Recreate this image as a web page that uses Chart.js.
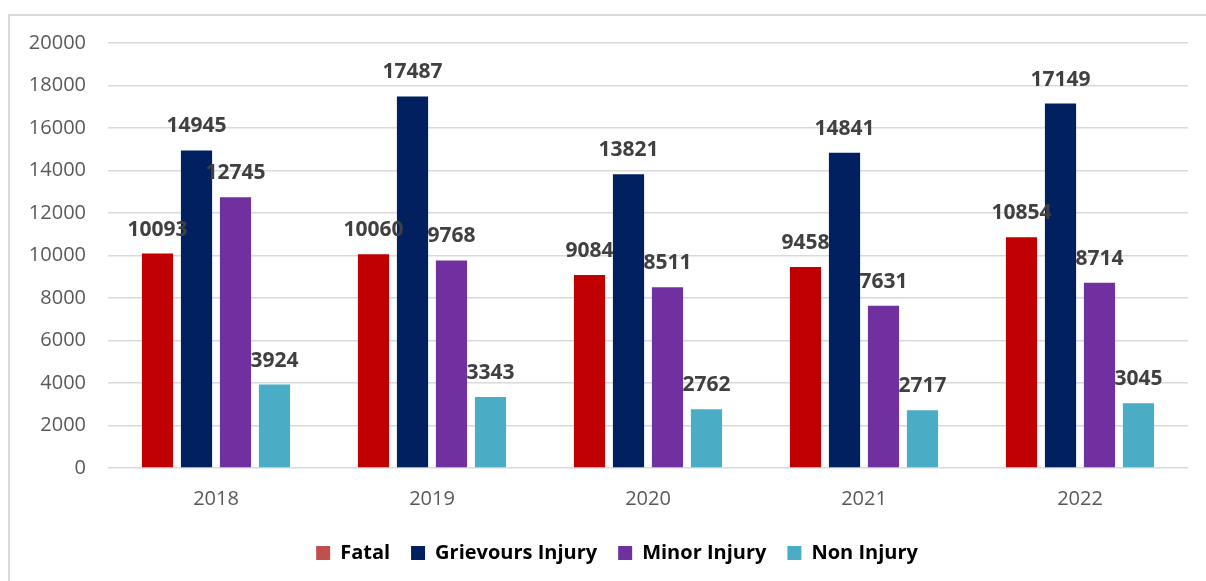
<!DOCTYPE html>
<html>
<head>
<meta charset="utf-8">
<script src="https://cdn.jsdelivr.net/npm/chart.js@4/dist/chart.umd.min.js"></script>
<style>
  html, body { margin: 0; padding: 0; background: #ffffff; overflow: hidden; }
  #wrap { position: relative; width: 1206px; height: 581px; }
  #frame { position: absolute; left: 8px; top: 14px; width: 1300px; height: 700px;
           border: 2px solid #D9D9D9; box-sizing: border-box; }
  canvas { position: absolute; left: 0; top: 0; }
</style>
</head>
<body>
<div id="wrap">
  <div id="frame"></div>
  <canvas id="c" width="1206" height="581"></canvas>
</div>
<script>
const categories = ["2018", "2019", "2020", "2021", "2022"];
const seriesNames = ["Fatal", "Grievours Injury", "Minor Injury", "Non Injury"];
const fatal = [10093, 10060, 9084, 9458, 10854];
const grievous = [14945, 17487, 13821, 14841, 17149];
const minor = [12745, 9768, 8511, 7631, 8714];
const nonInjury = [3924, 3343, 2762, 2717, 3045];
const yTicks = [0, 2000, 4000, 6000, 8000, 10000, 12000, 14000, 16000, 18000, 20000];

const barColors = ["#C00000", "#002060", "#7030A0", "#4BACC6"];
const legendColors = ["#C0504D", "#002060", "#7030A0", "#4BACC6"];
const FONT = "'Open Sans', Lato, sans-serif";

const valueLabels = {
  id: "valueLabels",
  afterDatasetsDraw(chart) {
    const ctx = chart.ctx;
    ctx.save();
    ctx.font = "bold 21px " + FONT;
    ctx.fillStyle = "#404040";
    ctx.textAlign = "center";
    ctx.textBaseline = "alphabetic";
    chart.data.datasets.forEach((ds, i) => {
      const meta = chart.getDatasetMeta(i);
      meta.data.forEach((bar, j) => {
        ctx.fillText(String(ds.data[j]), bar.x, bar.y - 18);
      });
    });
    ctx.restore();
  }
};

const legendShift = {
  id: "legendShift",
  afterLayout(chart) {
    if (chart.legend) {
      chart.legend.left += 23;
      chart.legend.right += 23;
    }
  }
};

const seriesData = [fatal, grievous, minor, nonInjury];

new Chart(document.getElementById("c"), {
  type: "bar",
  data: {
    labels: categories,
    datasets: seriesNames.map((n, i) => ({
      label: n,
      data: seriesData[i],
      backgroundColor: barColors[i],
      borderWidth: 0,
      categoryPercentage: 0.722,
      barPercentage: 0.8
    }))
  },
  options: {
    responsive: false,
    animation: false,
    layout: { padding: { left: 0, right: 18, top: 43, bottom: 8 } },
    scales: {
      x: {
        grid: { display: false, drawTicks: false },
        border: { display: false },
        ticks: { color: "#595959", font: { family: FONT, size: 20 }, padding: 19 },
        afterFit(scale) { scale.height = 54; }
      },
      y: {
        min: 0, max: 20000,
        afterBuildTicks(scale) { scale.ticks = yTicks.map(v => ({ value: v })); },
        grid: { color: "#D9D9D9", lineWidth: 1.5, drawTicks: false },
        border: { display: false },
        ticks: {
          color: "#595959", font: { family: FONT, size: 20 }, padding: 22,
          callback: (v) => String(v)
        },
        afterFit(scale) { scale.width = 108; }
      }
    },
    plugins: {
      tooltip: { enabled: false },
      legend: {
        position: "bottom",
        labels: {
          color: "#595959",
          font: { family: FONT, size: 20, weight: "bold" },
          boxWidth: 14, boxHeight: 14, padding: 21,
          generateLabels(chart) {
            return chart.data.datasets.map((ds, i) => ({
              text: ds.label,
              fillStyle: legendColors[i],
              strokeStyle: legendColors[i],
              lineWidth: 0,
              hidden: false,
              datasetIndex: i
            }));
          }
        }
      }
    }
  },
  plugins: [valueLabels, legendShift]
});
</script>
</body>
</html>
